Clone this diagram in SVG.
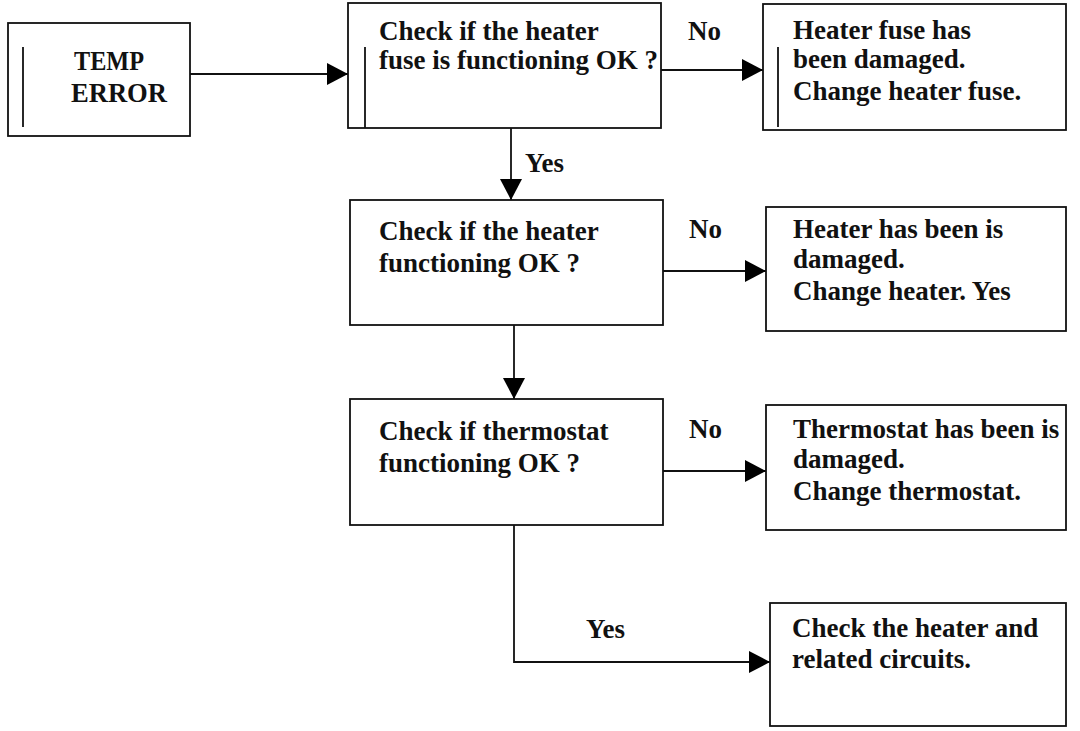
<svg xmlns="http://www.w3.org/2000/svg" width="1080" height="731" viewBox="0 0 1080 731">
<style>
.box{fill:#fff;stroke:#111;stroke-width:1.8}
.bar{stroke:#111;stroke-width:1.8}
.t{font-family:"Liberation Serif","Times New Roman",serif;font-weight:bold;font-size:27px;fill:#111}
.c{fill:none;stroke:#111;stroke-width:1.8}
</style>
<defs>
<marker id="ah" markerUnits="userSpaceOnUse" markerWidth="22" markerHeight="22" refX="21" refY="11" orient="auto">
<path d="M0,0 L21,11 L0,22 Z" fill="#000"/>
</marker>
</defs>
<rect width="1080" height="731" fill="#fff"/>
<g id="connectors">
<line class="c" x1="186" y1="74" x2="348" y2="74" marker-end="url(#ah)"/>
<line class="c" x1="658" y1="70" x2="763" y2="70" marker-end="url(#ah)"/>
<line class="c" x1="511" y1="124" x2="511" y2="200" marker-end="url(#ah)"/>
<line class="c" x1="663" y1="271" x2="766" y2="271" marker-end="url(#ah)"/>
<line class="c" x1="514" y1="325" x2="514" y2="399" marker-end="url(#ah)"/>
<line class="c" x1="663" y1="471" x2="766" y2="471" marker-end="url(#ah)"/>
<polyline class="c" points="514,525 514,662 770,662" marker-end="url(#ah)"/>
<text class="t" x="688" y="40">No</text>
<text class="t" x="525" y="172">Yes</text>
<text class="t" x="689" y="238">No</text>
<text class="t" x="689" y="438">No</text>
<text class="t" x="586" y="638">Yes</text>
</g>
<g id="temp-error">
<rect class="box" x="8" y="23" width="182" height="113"/>
<line class="bar" x1="23" y1="47" x2="23" y2="127"/>
<text class="t" x="74" y="70" textLength="70" lengthAdjust="spacingAndGlyphs">TEMP</text>
<text class="t" x="71" y="102" textLength="96" lengthAdjust="spacingAndGlyphs">ERROR</text>
</g>
<g id="check-fuse">
<rect class="box" x="348" y="3" width="313" height="125"/>
<line class="bar" x1="365" y1="47" x2="365" y2="128"/>
<text class="t" x="379" y="40">Check if the heater</text>
<text class="t" x="379" y="69">fuse is functioning OK ?</text>
</g>
<g id="fuse-damaged">
<rect class="box" x="763" y="4" width="303" height="126"/>
<line class="bar" x1="778" y1="47" x2="778" y2="127"/>
<text class="t" x="793" y="39">Heater fuse has</text>
<text class="t" x="793" y="68">been damaged.</text>
<text class="t" x="793" y="100">Change heater fuse.</text>
</g>
<g id="check-heater">
<rect class="box" x="350" y="200" width="313" height="125"/>
<text class="t" x="379" y="240">Check if the heater</text>
<text class="t" x="379" y="272">functioning OK ?</text>
</g>
<g id="heater-damaged">
<rect class="box" x="766" y="207" width="300" height="124"/>
<text class="t" x="793" y="238">Heater has been is</text>
<text class="t" x="793" y="268">damaged.</text>
<text class="t" x="793" y="300">Change heater. Yes</text>
</g>
<g id="check-thermostat">
<rect class="box" x="350" y="399" width="313" height="126"/>
<text class="t" x="379" y="440">Check if thermostat</text>
<text class="t" x="379" y="472">functioning OK ?</text>
</g>
<g id="thermostat-damaged">
<rect class="box" x="766" y="405" width="300" height="125"/>
<text class="t" x="793" y="438">Thermostat has been is</text>
<text class="t" x="793" y="468">damaged.</text>
<text class="t" x="793" y="500">Change thermostat.</text>
</g>
<g id="check-circuits">
<rect class="box" x="770" y="603" width="296" height="123"/>
<text class="t" x="792" y="637">Check the heater and</text>
<text class="t" x="792" y="668">related circuits.</text>
</g>
</svg>
